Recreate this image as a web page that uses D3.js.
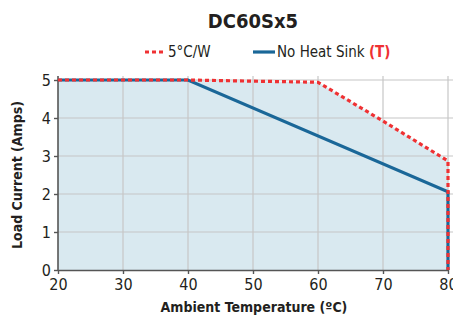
<!DOCTYPE html>
<html><head><meta charset="utf-8">
<script src="https://cdn.jsdelivr.net/npm/d3@7"></script>
<style>
body{margin:0;background:#fff;}
text{font-family:"DejaVu Sans Condensed","DejaVu Sans",sans-serif;font-stretch:condensed;fill:#231f20;}
</style></head><body>
<svg id="c" width="453" height="320"></svg>
<script>
const title = "DC60Sx5";
const xTicks = [20,30,40,50,60,70,80];
const yTicks = [0,1,2,3,4,5];
const heatSinkTemp = [20,40,60,70,80,80];
const heatSinkLoad = [5,5,4.94,3.92,2.87,0];
const noSinkTemp = [20,40,80,80];
const noSinkLoad = [5,5,2.06,0];

const svg = d3.select("#c");
const x = d3.scaleLinear().domain([20,80]).range([58,448]);
const y = d3.scaleLinear().domain([0,5]).range([270,80]);

const hs = heatSinkTemp.map((t,i)=>[t,heatSinkLoad[i]]);
const ns = noSinkTemp.map((t,i)=>[t,noSinkLoad[i]]);

svg.append("path").datum(hs)
  .attr("d", d3.area().x(d=>x(d[0])).y0(y(0)).y1(d=>y(d[1])))
  .attr("fill","#d9e9f0");

const g = svg.append("g");
g.selectAll(".vg").data(xTicks.slice(1)).join("line")
  .attr("x1",d=>x(d)).attr("x2",d=>x(d)).attr("y1",76).attr("y2",y(0))
  .attr("stroke","#c6c6c6").attr("stroke-width",1.2);
g.selectAll(".hg").data(yTicks.slice(1)).join("line")
  .attr("x1",x(20)).attr("x2",453).attr("y1",d=>y(d)).attr("y2",d=>y(d))
  .attr("stroke","#c6c6c6").attr("stroke-width",1.2);

const xa = svg.append("g").attr("transform",`translate(0,${y(0)})`)
  .call(d3.axisBottom(x).tickValues(xTicks).tickFormat(d3.format("d")).tickSize(4).tickSizeOuter(0));
const ya = svg.append("g").attr("transform",`translate(${x(20)},0)`)
  .call(d3.axisLeft(y).tickValues(yTicks).tickFormat(d3.format("d")).tickSize(4).tickSizeOuter(0));
[xa,ya].forEach(a=>{
  a.select(".domain").attr("stroke","#555").attr("stroke-width",1.6);
  a.selectAll(".tick line").attr("stroke","#555").attr("stroke-width",1.4);
  a.selectAll("text").style("font-size","16px").attr("fill","#231f20")
    .style("font-family",null);
});
ya.select(".domain").attr("d",`M0,76V${y(0)}`);
xa.selectAll("text").attr("dy","0.8em");
ya.selectAll("text").attr("x",-7).attr("dy","0.36em");

const line = d3.line().x(d=>x(d[0])).y(d=>y(d[1]));
svg.append("path").datum(ns).attr("d",line).attr("fill","none")
  .attr("stroke","#1a6798").attr("stroke-width",3.2);
svg.append("path").datum(hs).attr("d",line).attr("fill","none")
  .attr("stroke","#ef3133").attr("stroke-width",3.2).attr("stroke-dasharray","4,3");

svg.append("text").attr("x",253).attr("y",28).attr("text-anchor","middle")
  .style("font-size","20px").style("font-weight","bold").text(title);

const lg = svg.append("g");
lg.append("line").attr("x1",145).attr("x2",166).attr("y1",52).attr("y2",52)
  .attr("stroke","#ef3133").attr("stroke-width",3.2).attr("stroke-dasharray","4,3");
lg.append("text").attr("x",168).attr("y",57).style("font-size","15px").text("5°C/W");
lg.append("line").attr("x1",253).attr("x2",275).attr("y1",52).attr("y2",52)
  .attr("stroke","#1a6798").attr("stroke-width",3.2);
const t2 = lg.append("text").attr("x",277).attr("y",57).style("font-size","15px");
t2.append("tspan").text("No Heat Sink ");
t2.append("tspan").style("fill","#ef3133").style("font-weight","bold").text("(T)");

svg.append("text").attr("x",254).attr("y",312).attr("text-anchor","middle")
  .style("font-size","14px").style("font-weight","bold").text("Ambient Temperature (ºC)");
svg.append("text").attr("transform","translate(22,175) rotate(-90)").attr("text-anchor","middle")
  .style("font-size","14px").style("font-weight","bold").text("Load Current (Amps)");
</script></body></html>
